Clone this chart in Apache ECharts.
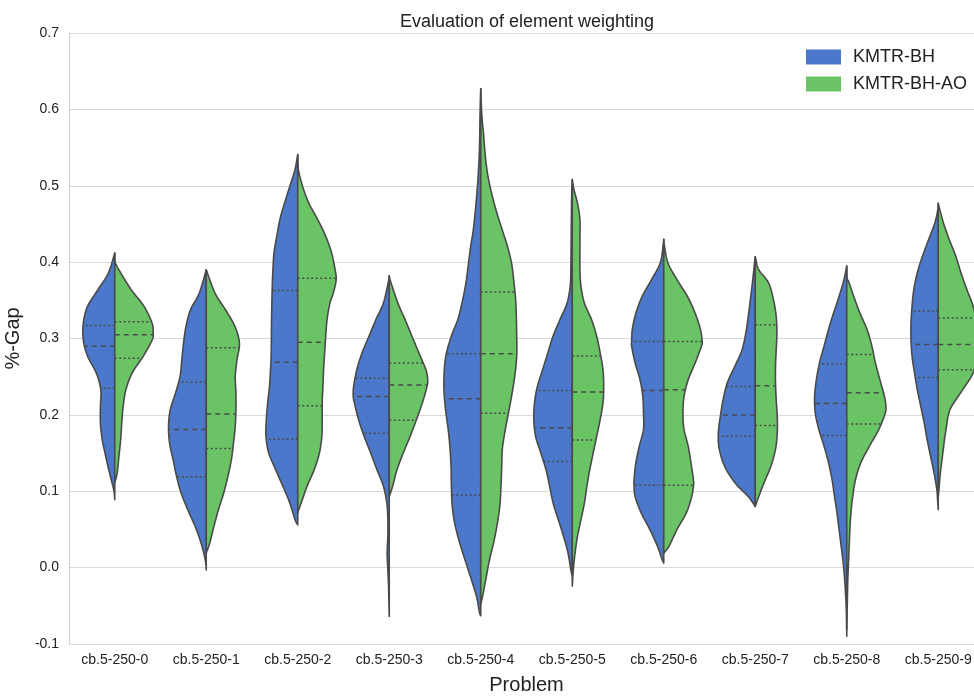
<!DOCTYPE html>
<html><head><meta charset="utf-8">
<script src="https://cdn.jsdelivr.net/npm/echarts@6/dist/echarts.min.js"></script>
<style>html,body{margin:0;padding:0;background:#fff;overflow:hidden}#c{width:974px;height:696px}</style>
</head><body><div id="c"></div><script>
// ---------------- DATA ----------------
const categories = ['cb.5-250-0','cb.5-250-1','cb.5-250-2','cb.5-250-3','cb.5-250-4','cb.5-250-5','cb.5-250-6','cb.5-250-7','cb.5-250-8','cb.5-250-9'];
const seriesNames = ['KMTR-BH','KMTR-BH-AO'];
const yTicks = [-0.1,0.0,0.1,0.2,0.3,0.4,0.5,0.6,0.7];

// density profiles: [%-Gap value, relative density] (top to bottom)
const bh0 = [[0.412,0],[0.386,18],[0.364,48],[0.342,78],[0.320,90],[0.298,90],[0.277,78],[0.255,53],[0.233,40],[0.211,41],[0.189,41],[0.168,36],[0.146,26],[0.124,15],[0.102,3],[0.089,0]];
const ao0 = [[0.412,0],[0.399,2],[0.386,17],[0.364,47],[0.342,84],[0.320,107],[0.307,110],[0.298,107],[0.277,82],[0.255,50],[0.233,32],[0.211,24],[0.189,20],[0.168,17],[0.146,12],[0.124,7],[0.111,0]];
const bh1 = [[0.390,0],[0.3595,20],[0.3377,45],[0.3159,58],[0.294,65],[0.272,70],[0.2504,75],[0.2286,88],[0.2068,103],[0.185,108],[0.163,105],[0.1414,95],[0.1195,85],[0.0977,72],[0.0759,53],[0.0541,32],[0.0323,15],[0.0105,3],[-0.003,0]];
const ao1 = [[0.390,0],[0.3595,25],[0.3377,55],[0.3159,82],[0.294,95],[0.272,88],[0.2504,83],[0.2286,85],[0.2068,85],[0.185,83],[0.163,78],[0.1414,72],[0.1195,62],[0.0977,50],[0.0759,35],[0.0541,22],[0.0323,10],[0.0192,0]];
const bh2 = [[0.541,0],[0.521,8],[0.499,23],[0.477,38],[0.456,51],[0.434,60],[0.412,68],[0.390,71],[0.368,73],[0.325,75],[0.281,76],[0.259,78],[0.237,81],[0.216,86],[0.194,90],[0.172,91],[0.150,83],[0.128,63],[0.107,43],[0.085,23],[0.063,8],[0.056,0]];
const ao2 = [[0.541,0],[0.521,2],[0.499,14],[0.477,32],[0.456,57],[0.434,80],[0.412,97],[0.390,107],[0.377,110],[0.360,102],[0.346,92],[0.325,84],[0.303,80],[0.281,77],[0.259,74],[0.237,72],[0.216,70],[0.194,70],[0.172,69],[0.150,62],[0.128,47],[0.107,27],[0.085,10],[0.072,0]];
const bh3 = [[0.382,0],[0.373,3],[0.346,17],[0.325,38],[0.303,58],[0.281,78],[0.259,93],[0.237,102],[0.224,103],[0.216,100],[0.194,88],[0.172,72],[0.150,53],[0.128,35],[0.107,17],[0.085,7],[0.063,4],[0.041,4],[0.019,6],[-0.003,4],[-0.024,2],[-0.046,1],[-0.064,0]];
const ao3 = [[0.382,0],[0.373,5],[0.346,25],[0.325,45],[0.303,65],[0.281,85],[0.259,105],[0.246,110],[0.237,108],[0.216,95],[0.194,78],[0.172,60],[0.150,40],[0.128,22],[0.107,10],[0.093,0]];
const bh4 = [[0.627,0],[0.593,2],[0.544,4],[0.496,10],[0.447,20],[0.423,28],[0.399,35],[0.374,42],[0.350,52],[0.326,65],[0.302,85],[0.277,100],[0.253,105],[0.229,105],[0.204,100],[0.180,93],[0.156,88],[0.132,85],[0.107,84],[0.083,82],[0.059,75],[0.035,62],[0.010,45],[-0.014,28],[-0.038,12],[-0.058,4],[-0.063,0]];
const ao4 = [[0.627,0],[0.593,3],[0.568,8],[0.544,12],[0.520,18],[0.496,28],[0.471,42],[0.447,58],[0.423,75],[0.399,88],[0.374,95],[0.350,100],[0.326,102],[0.302,103],[0.277,103],[0.253,98],[0.229,90],[0.204,80],[0.180,70],[0.156,62],[0.132,60],[0.107,58],[0.083,55],[0.059,48],[0.035,38],[0.010,25],[-0.014,15],[-0.038,5],[-0.048,0]];
const bh5 = [[0.508,0],[0.495,1],[0.477,2],[0.434,3],[0.390,4],[0.368,6],[0.346,15],[0.325,35],[0.303,55],[0.281,70],[0.259,85],[0.237,100],[0.216,108],[0.194,110],[0.172,105],[0.150,90],[0.128,75],[0.107,65],[0.085,55],[0.063,40],[0.041,25],[0.019,12],[-0.003,4],[-0.011,0]];
const ao5 = [[0.508,0],[0.495,5],[0.477,15],[0.456,22],[0.434,22],[0.412,22],[0.390,22],[0.368,25],[0.346,35],[0.325,55],[0.303,70],[0.281,80],[0.259,88],[0.237,90],[0.216,88],[0.194,80],[0.172,70],[0.150,60],[0.128,50],[0.107,42],[0.085,35],[0.063,25],[0.041,15],[0.019,8],[-0.003,3],[-0.024,0]];
const bh6 = [[0.430,0],[0.421,2],[0.399,10],[0.377,35],[0.355,62],[0.333,80],[0.312,90],[0.296,92],[0.290,92],[0.268,82],[0.246,68],[0.224,60],[0.202,58],[0.181,58],[0.159,70],[0.137,80],[0.115,85],[0.107,85],[0.093,82],[0.072,65],[0.050,40],[0.028,18],[0.011,5],[0.006,0]];
const ao6 = [[0.430,0],[0.421,2],[0.399,12],[0.377,38],[0.355,68],[0.333,90],[0.312,105],[0.296,110],[0.290,108],[0.268,90],[0.246,70],[0.224,58],[0.202,55],[0.181,58],[0.159,70],[0.137,78],[0.115,85],[0.107,85],[0.093,80],[0.072,65],[0.050,38],[0.028,15],[0.019,0]];
const bh7 = [[0.407,0],[0.399,2],[0.373,8],[0.351,14],[0.329,20],[0.307,27],[0.285,38],[0.264,58],[0.242,80],[0.220,92],[0.198,100],[0.185,104],[0.172,106],[0.155,103],[0.133,88],[0.111,58],[0.093,20],[0.080,0]];
const ao7 = [[0.407,0],[0.403,2],[0.390,10],[0.373,38],[0.351,52],[0.329,60],[0.307,62],[0.285,60],[0.264,58],[0.242,58],[0.220,60],[0.198,63],[0.176,63],[0.155,58],[0.133,45],[0.111,25],[0.093,10],[0.080,0]];
const bh8 = [[0.395,0],[0.390,2],[0.377,8],[0.355,22],[0.333,38],[0.312,52],[0.290,65],[0.268,78],[0.246,87],[0.224,92],[0.202,90],[0.181,80],[0.159,65],[0.137,52],[0.115,42],[0.093,35],[0.072,28],[0.050,22],[0.028,16],[0.006,10],[-0.016,6],[-0.038,3],[-0.059,1],[-0.090,0]];
const ao8 = [[0.395,0],[0.377,1],[0.375,5],[0.355,20],[0.333,38],[0.312,58],[0.290,72],[0.268,82],[0.246,95],[0.224,108],[0.211,112],[0.202,110],[0.181,92],[0.159,65],[0.137,40],[0.115,25],[0.093,17],[0.072,12],[0.050,9],[0.028,7],[0.006,5],[-0.016,3],[-0.038,2],[-0.059,1],[-0.081,0]];
const bh9 = [[0.477,0],[0.469,1],[0.451,10],[0.429,28],[0.408,45],[0.386,60],[0.364,70],[0.342,75],[0.320,78],[0.298,78],[0.277,75],[0.255,68],[0.233,60],[0.211,50],[0.189,40],[0.168,32],[0.146,22],[0.124,12],[0.102,4],[0.089,2],[0.076,0]];
const ao9 = [[0.477,0],[0.473,2],[0.451,15],[0.429,32],[0.408,50],[0.386,65],[0.364,82],[0.342,100],[0.320,110],[0.298,115],[0.277,110],[0.255,100],[0.233,70],[0.211,38],[0.198,28],[0.189,25],[0.168,18],[0.146,12],[0.124,6],[0.102,2],[0.093,0]];

// quartiles [Q1, median, Q3]
const bhQuartiles = [[0.235,0.290,0.317],[0.119,0.181,0.243],[0.168,0.269,0.363],[0.176,0.224,0.248],[0.095,0.221,0.280],[0.139,0.183,0.232],[0.108,0.232,0.296],[0.172,0.200,0.237],[0.173,0.215,0.267],[0.249,0.292,0.336]];
const aoQuartiles = [[0.274,0.305,0.322],[0.156,0.201,0.288],[0.212,0.295,0.379],[0.193,0.239,0.268],[0.202,0.280,0.361],[0.167,0.230,0.277],[0.108,0.233,0.296],[0.186,0.238,0.318],[0.188,0.229,0.279],[0.259,0.292,0.327]];

const bhProfiles = [bh0,bh1,bh2,bh3,bh4,bh5,bh6,bh7,bh8,bh9];
const aoProfiles = [ao0,ao1,ao2,ao3,ao4,ao5,ao6,ao7,ao8,ao9];

// ---------------- STYLE ----------------
const BLUE = '#4C78CC', GREEN = '#6AC466', OUTLINE = '#4a4a4a';
const DENS_PER_BAND = 262; // density units per category band width
const FONT = '"Liberation Sans", Arial, sans-serif';

function densAt(prof, v){
  for (let k=0;k<prof.length-1;k++){
    const a=prof[k], b=prof[k+1];
    if (v<=a[0] && v>=b[0]) { const t=(a[0]-v)/(a[0]-b[0]||1); return a[1]+(b[1]-a[1])*t; }
  }
  return 0;
}
function smoothCurve(pts, cx, side){
  const out=[]; const n=pts.length;
  for (let i=0;i<n-1;i++){
    const p0=pts[Math.max(0,i-1)], p1=pts[i], p2=pts[i+1], p3=pts[Math.min(n-1,i+2)];
    for (let s=0;s<8;s++){
      const t=s/8, t2=t*t, t3=t2*t;
      const f=(a,b,c,d)=>0.5*((2*b)+(-a+c)*t+(2*a-5*b+4*c-d)*t2+(-a+3*b-3*c+d)*t3);
      let x=f(p0[0],p1[0],p2[0],p3[0]), y=f(p0[1],p1[1],p2[1],p3[1]);
      if ((x-cx)*side<0) x=cx;
      out.push([x,y]);
    }
  }
  out.push(pts[n-1]);
  return out;
}
function makeRender(profiles, quartiles, side, color){
  return function(params, api){
    const i = api.value(0);
    const prof = profiles[i];
    const bw = api.size([1,0])[0];
    const cx = api.coord([i,0])[0];
    const k = bw/DENS_PER_BAND*side;
    const pts = prof.map(p=>[cx+p[1]*k, api.coord([i,p[0]])[1]]);
    const children=[{type:'polygon', shape:{points:smoothCurve(pts,cx,side)}, style:{fill:color, stroke:OUTLINE, lineWidth:1.6, lineJoin:'round'}}];
    quartiles[i].forEach((q,j)=>{
      const d=densAt(prof,q); const y=api.coord([i,q])[1];
      children.push({type:'line', shape:{x1:cx, y1:y, x2:cx+d*k, y2:y},
        style:{stroke:OUTLINE, lineWidth:1.5, lineDash: j===1?[5,4]:[2,2.5]}});
    });
    return {type:'group', children};
  };
}

const chart = echarts.init(document.getElementById('c'), null, {renderer:'canvas'});
chart.setOption({
  backgroundColor:'#fff',
  animation:false,
  textStyle:{fontFamily:FONT},
  grid:{left:69, right:-10, top:33, bottom:52, containLabel:false, outerBoundsMode:'none'},
  graphic:[{type:'text', x:527, y:13, style:{text:'Evaluation of element weighting', textAlign:'center', fontSize:18, fill:'#222', fontFamily:FONT}}],
  legend:{orient:'vertical', left:801, top:43, itemWidth:35, itemHeight:15, itemGap:9, icon:'rect',
    data:seriesNames, textStyle:{fontSize:18, color:'#222', padding:[0,0,0,7]}, itemStyle:{borderWidth:0}},
  xAxis:{type:'category', data:categories, boundaryGap:true,
    axisLine:{show:false}, axisTick:{show:false},
    axisLabel:{fontSize:14, color:'#222', margin:9, interval:0},
    name:'Problem', nameLocation:'middle', nameGap:31, nameTextStyle:{fontSize:20, color:'#222'}},
  yAxis:{type:'value', min:yTicks[0], max:yTicks[yTicks.length-1], interval:0.1,
    axisLine:{show:true, lineStyle:{color:'#cfcfcf'}}, axisTick:{show:false},
    axisLabel:{fontSize:14, color:'#222', margin:10, formatter:v=>(Math.abs(v)<1e-9?0:v).toFixed(1)},
    splitLine:{lineStyle:{color:'#d9d9d9'}},
    name:'%-Gap', nameLocation:'middle', nameGap:34, nameTextStyle:{fontSize:20, color:'#222'}},
  series:[
    {name:seriesNames[0], type:'custom', itemStyle:{color:BLUE}, renderItem:makeRender(bhProfiles,bhQuartiles,-1,BLUE),
      data:categories.map((c,i)=>[i,0]), encode:{x:0,y:1}},
    {name:seriesNames[1], type:'custom', itemStyle:{color:GREEN}, renderItem:makeRender(aoProfiles,aoQuartiles,1,GREEN),
      data:categories.map((c,i)=>[i,0]), encode:{x:0,y:1}}
  ]
});
</script></body></html>
